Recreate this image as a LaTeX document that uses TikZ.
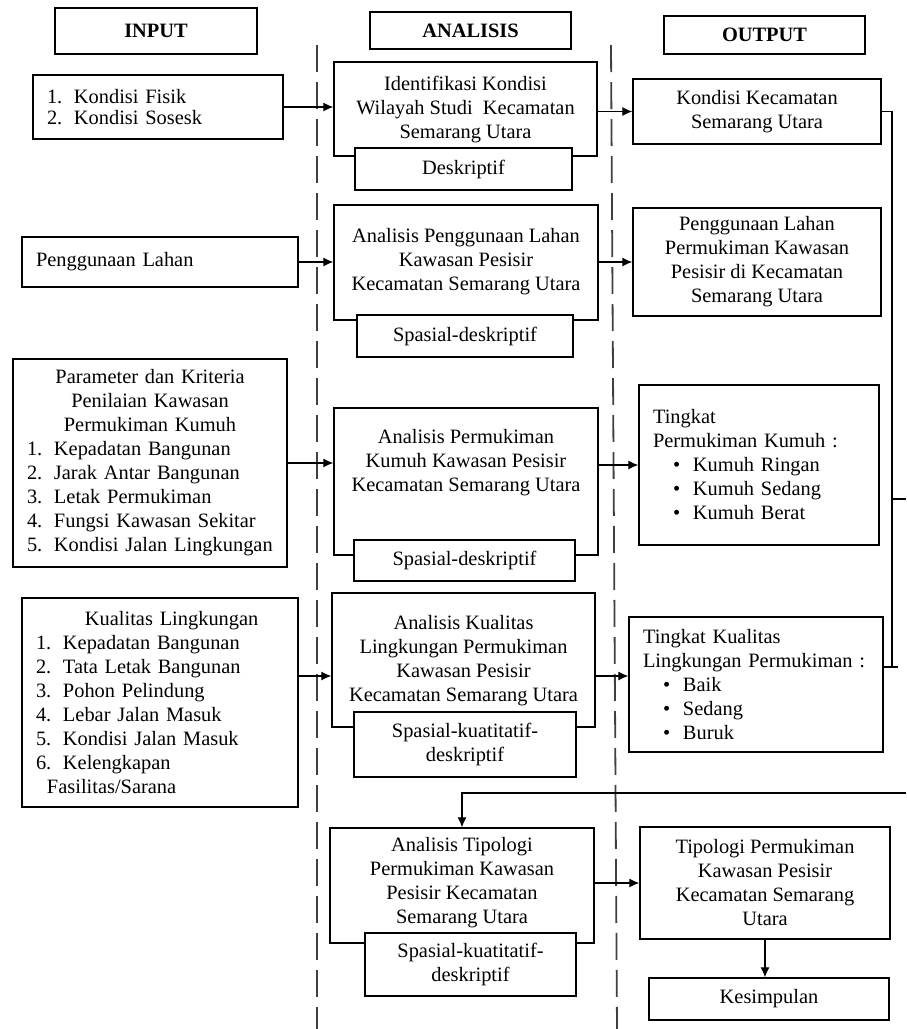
\documentclass[tikz,border=0pt]{standalone}
\usepackage{fontspec}
\setmainfont{Liberation Serif}
\usetikzlibrary{arrows.meta}

\newcommand{\numitem}[2]{\makebox[13.5pt][l]{#1}#2}
\newcommand{\bulitem}[1]{\hspace*{10pt}\makebox[10pt][l]{\textbullet}#1}

\begin{document}
\begin{tikzpicture}[x=0.5pt,y=-0.5pt,
    every node/.style={font=\fontsize{10.2}{12}\selectfont},
    box/.style 2 args={draw,line width=0.65pt,minimum width=#1,minimum height=#2,inner sep=0pt,align=center},
    subbox/.style 2 args={box={#1}{#2},fill=white},
    lbox/.style={draw,line width=0.65pt,inner xsep=7pt,inner ysep=0pt,align=left},
    txt/.style={align=center,inner sep=0pt},
    sep/.style={line width=0.9pt,black!75,dash pattern=on 13.5pt off 5pt},
    line/.style={draw,line width=0.6pt},
    arr/.style={line,-{Latex[length=5pt,width=4.5pt]}}]
    \path[fill=white,use as bounding box] (0,0) rectangle (906,1029);

    % Separators
    \draw[sep] (317,45) -- (317,1029);
    \draw[sep] (611,45) -- (617,1029);

    % Headers
    \node[box={101pt}{23pt}] (hin) at (156,31) {\textbf{INPUT}};
    \node[box={100.5pt}{18.5pt}] (han) at (470.5,30.5) {\textbf{ANALISIS}};
    \node[box={100.5pt}{19pt}] (hout) at (764.5,35) {\textbf{OUTPUT}};

    % Input
    \node[lbox,text width=111pt,minimum height=32pt] (in1) at (158,107)
        {\numitem{1.}{Kondisi Fisik}\\[-1.5pt]\numitem{2.}{Kondisi Sosesk}};
    \node[lbox,text width=124pt,minimum height=25pt] (in2) at (160,262) {Penggunaan Lahan};
    \node[lbox,text width=123pt,minimum height=104pt] (in3) at (150,463)
        {{\centering Parameter dan Kriteria\\Penilaian Kawasan\\Permukiman Kumuh\par}
         \numitem{1.}{Kepadatan Bangunan}\\
         \numitem{2.}{Jarak Antar Bangunan}\\
         \numitem{3.}{Letak Permukiman}\\
         \numitem{4.}{Fungsi Kawasan Sekitar}\\
         \numitem{5.}{Kondisi Jalan Lingkungan}};
    \node[lbox,text width=124pt,minimum height=104.5pt] (in4) at (160,702.5)
        {\hspace*{24.5pt}Kualitas Lingkungan\\
         \numitem{1.}{Kepadatan Bangunan}\\
         \numitem{2.}{Tata Letak Bangunan}\\
         \numitem{3.}{Pohon Pelindung}\\
         \numitem{4.}{Lebar Jalan Masuk}\\
         \numitem{5.}{Kondisi Jalan Masuk}\\
         \numitem{6.}{Kelengkapan}\\
         \hspace*{5.5pt}Fasilitas/Sarana};

    % Analisis
    \node[box={131.5pt}{47pt}] (an1) at (465.5,109) {};
    \node[txt] (an1t) at (465.5,110) {Identifikasi Kondisi\\Wilayah Studi\ \ Kecamatan\\Semarang Utara};
    \node[subbox={108.5pt}{21pt}] (sub1) at (463.5,169) {Deskriptif};

    \node[box={132pt}{57.5pt}] (an2) at (466,262.5) {};
    \node[txt] (an2t) at (466,262) {Analisis Penggunaan Lahan\\Kawasan Pesisir\\Kecamatan Semarang Utara};
    \node[subbox={108pt}{21pt}] (sub2) at (465,336) {Spasial-deskriptif};

    \node[box={132pt}{73.5pt}] (an3) at (466,481.5) {};
    \node[txt] (an3t) at (466,463) {Analisis Permukiman\\Kumuh Kawasan Pesisir\\Kecamatan Semarang Utara};
    \node[subbox={110.5pt}{20.5pt}] (sub3) at (464.5,560.5) {Spasial-deskriptif};

    \node[box={131.5pt}{67pt}] (an4) at (463.5,660) {};
    \node[txt] (an4t) at (463.5,661) {Analisis Kualitas\\Lingkungan Permukiman\\Kawasan Pesisir\\Kecamatan Semarang Utara};
    \node[subbox={111pt}{32.5pt}] (sub4) at (465,744.5) {Spasial-kuatitatif-\\deskriptif};

    \node[box={132pt}{57.5pt}] (an5) at (462,885.5) {};
    \node[txt] (an5t) at (462,883) {Analisis Tipologi\\Permukiman Kawasan\\Pesisir Kecamatan\\Semarang Utara};
    \node[subbox={105.5pt}{31.5pt}] (sub5) at (470.5,964.5) {Spasial-kuatitatif-\\deskriptif};

    % Output
    \node[box={124pt}{32.5pt}] (out1) at (757,111.5) {Kondisi Kecamatan\\Semarang Utara};
    \node[box={124pt}{54pt}] (out2) at (757,262) {Penggunaan Lahan\\Permukiman Kawasan\\Pesisir di Kecamatan\\Semarang Utara};
    \node[lbox,text width=106pt,minimum height=80pt] (out3) at (759,465)
        {Tingkat\\Permukiman Kumuh :\\\bulitem{Kumuh Ringan}\\\bulitem{Kumuh Sedang}\\\bulitem{Kumuh Berat}};
    \node[lbox,text width=113pt,minimum height=67.5pt] (out4) at (756,684.5)
        {Tingkat Kualitas\\Lingkungan Permukiman :\\\bulitem{Baik}\\\bulitem{Sedang}\\\bulitem{Buruk}};
    \node[box={125pt}{56pt}] (out5) at (765,883) {Tipologi Permukiman\\Kawasan Pesisir\\Kecamatan Semarang\\Utara};
    \node[box={120pt}{21pt}] (kes) at (769,999) {Kesimpulan};

    % Arrows
    \coordinate (y4) at (0,676);
    \draw[arr] (in1.east) -- (in1.east -| an1.west);
    \draw[arr] (an1.east |- out1.west) -- (out1.west);
    \draw[arr] (in2.east) -- (in2.east -| an2.west);
    \draw[arr] (an2.east |- out2.west) -- (out2.west);
    \draw[arr] (in3.east) -- (in3.east -| an3.west);
    \draw[arr] (an3.east |- out3.west) -- (out3.west);
    \draw[arr] (in4.east |- y4) -- (an4.west |- y4);
    \draw[arr] (an4.east |- y4) -- (out4.west |- y4);
    \draw[arr] (an5.east |- out5.west) -- (out5.west);
    \draw[arr] (out5.south) -- (out5.south |- kes.north);

    % Right connector
    \coordinate (rb) at (892,667);
    \coordinate (rm) at (892,499);
    \coordinate (re1) at (906,499);
    \coordinate (re2) at (906,793);
    \draw[line] (out1.east) -| (rb);
    \draw[line] (out4.east |- rb) -- ++(14,0);
    \draw[line] (rm) -- (re1);
    \draw[arr] (re2) -| (an5.north);
\end{tikzpicture}
\end{document}
